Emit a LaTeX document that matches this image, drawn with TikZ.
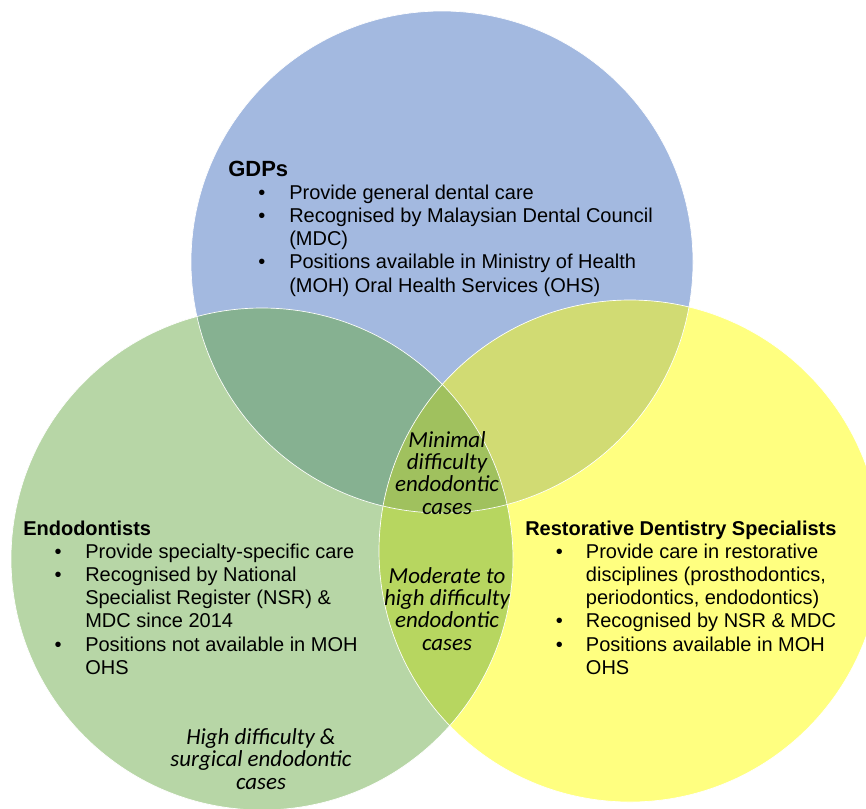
\documentclass[tikz,border=0pt]{standalone}
\usepackage{fontspec}
\setmainfont{Liberation Sans}
\newfontfamily\calibri{Carlito}
\usepackage{tikz}
\usetikzlibrary{positioning}

\definecolor{gdpblue}{HTML}{A3B9E0}
\definecolor{endogreen}{HTML}{B7D6A6}
\definecolor{restoyellow}{HTML}{FFFF80}
\definecolor{bluegreen}{HTML}{86B191}
\definecolor{blueyellow}{HTML}{D1DB73}
\definecolor{greenyellow}{HTML}{B7D660}
\definecolor{allthree}{HTML}{A0C15E}

\tikzset{
  ring/.style={draw=white,line width=0.5pt},
  listbox/.style={anchor=base west,inner sep=0pt,font=\fontsize{15}{17.4}\selectfont},
  casebox/.style={align=center,inner sep=0pt,font=\calibri\itshape\fontsize{17.2}{16.6}\selectfont},
}

\begin{document}
\begin{tikzpicture}[x=0.75pt,y=-0.75pt]
      \fill[white] (0,0) rectangle (866,808);
      \useasboundingbox (0,0) rectangle (866,808);
      \clip (0,0) rectangle (866,808);

      \coordinate (gdp) at (442,262);
      \coordinate (endo) at (262,559);
      \coordinate (resto) at (630,551);

      % the three sets
      \fill[gdpblue] (gdp) circle (251);
      \fill[endogreen] (endo) circle (251);
      \fill[restoyellow] (resto) circle (251);

      % overlaps
      \begin{scope}
        \clip (endo) circle (251);
        \fill[greenyellow] (resto) circle (251);
      \end{scope}
      \begin{scope}
        \clip (gdp) circle (251);
        \fill[bluegreen] (endo) circle (251);
        \fill[blueyellow] (resto) circle (251);
        \clip (endo) circle (251);
        \fill[allthree] (resto) circle (251);
      \end{scope}

      \draw[ring] (gdp) circle (251);
      \draw[ring] (endo) circle (251);
      \draw[ring] (resto) circle (251);

      \node[listbox] (gdptext) at (228,176) {\begin{tabular}[t]{@{\hspace{22.5pt}}p{23.25pt}@{}l@{}}
        \multicolumn{2}{@{}l@{}}{\fontsize{16.5}{17.4}\selectfont\bfseries GDPs}\\
        \textbullet & Provide general dental care\\
        \textbullet & Recognised by Malaysian Dental Council\\
        & (MDC)\\
        \textbullet & Positions available in Ministry of Health\\
        & (MOH) Oral Health Services (OHS)
      \end{tabular}};

      \node[listbox] (endotext) at (23,535) {\begin{tabular}[t]{@{\hspace{23.5pt}}p{23pt}@{}l@{}}
        \multicolumn{2}{@{}l@{}}{\bfseries Endodontists}\\
        \textbullet & Provide specialty-specific care\\
        \textbullet & Recognised by National\\
        & Specialist Register (NSR) \&\\
        & MDC since 2014\\
        \textbullet & Positions not available in MOH\\
        & OHS
      \end{tabular}};

      \node[listbox] (restotext) at (525,535) {\begin{tabular}[t]{@{\hspace{23pt}}p{22.5pt}@{}l@{}}
        \multicolumn{2}{@{}l@{}}{\bfseries Restorative Dentistry Specialists}\\
        \textbullet & Provide care in restorative\\
        & disciplines (prosthodontics,\\
        & periodontics, endodontics)\\
        \textbullet & Recognised by NSR \& MDC\\
        \textbullet & Positions available in MOH\\
        & OHS
      \end{tabular}};

      \node[casebox] (minimal) at (447,473) {Minimal\\ difficulty\\ endodontic\\ cases};
      \node[casebox] (moderate) at (447,609) {Moderate to\\ high difficulty\\ endodontic\\ cases};
      \node[casebox] (high) at (261,759) {High difficulty \&\\ surgical endodontic\\ cases};
\end{tikzpicture}
\end{document}
